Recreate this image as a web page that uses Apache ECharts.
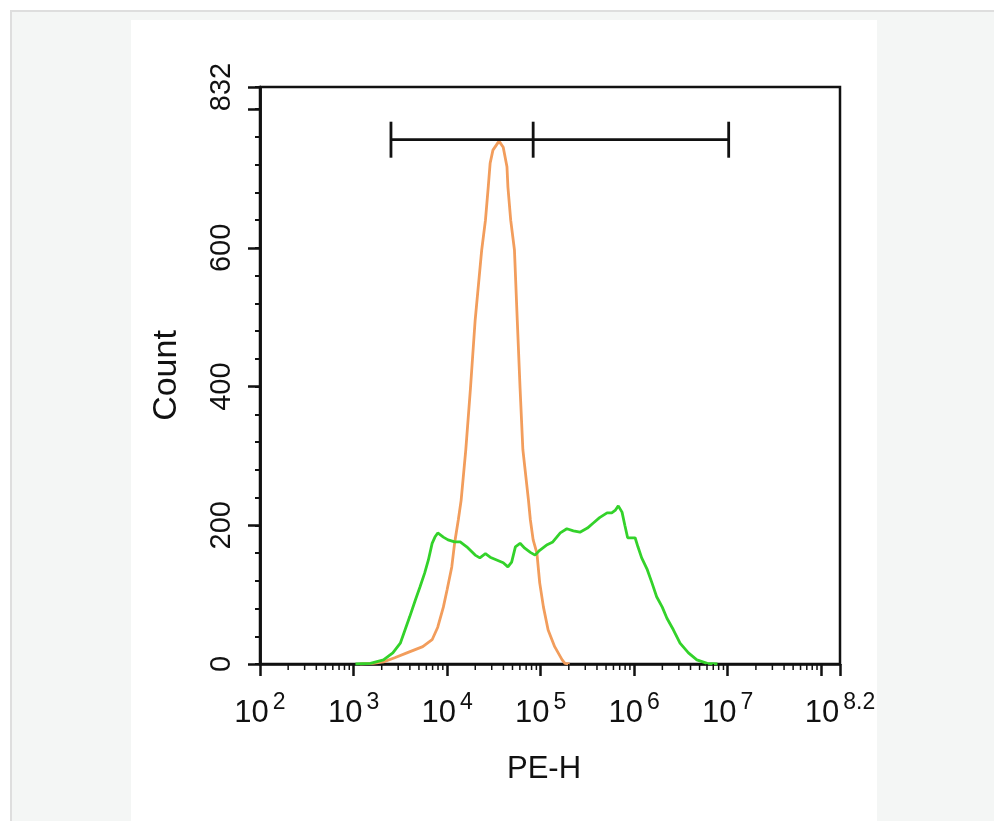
<!DOCTYPE html>
<html>
<head>
<meta charset="utf-8">
<script src="https://cdn.jsdelivr.net/npm/echarts@6/dist/echarts.min.js"></script>
<style>
  html, body { margin:0; padding:0; background:#ffffff; width:994px; height:821px; overflow:hidden; }
  #bg { position:absolute; left:10px; top:10px; width:984px; height:811px; background:#f4f6f5; border-left:2px solid #dedede; border-top:2px solid #dedede; box-sizing:border-box; }
  #panel { position:absolute; left:131px; top:20px; width:746px; height:801px; background:#ffffff; }
  #chart { position:absolute; left:0; top:0; width:994px; height:821px; }
</style>
</head>
<body>
<div id="bg"></div>
<div id="panel"></div>
<div id="chart"></div>
<script>
// ---- data (x given as log10 of PE-H) ----
const orangeExp   = [3.07,3.21,3.32,3.44,3.57,3.74,3.84,3.90,3.96,4.00,4.05,4.08,4.12,4.15,4.20,4.25,4.30,4.37,4.41,4.44,4.46,4.49,4.555,4.60,4.64,4.65,4.68,4.72,4.75,4.78,4.81,4.87,4.89,4.92,4.96,4.99,5.03,5.08,5.15,5.23,5.26,5.31];
const orangeCount = [0,1,3,9,16,25,35,53,82,107,140,174,208,236,309,398,496,597,640,688,722,741,754,745,717,688,640,597,496,398,309,236,208,179,160,117,82,49,25,6,1,0];

const greenExp   = [3.02,3.18,3.32,3.42,3.50,3.55,3.60,3.66,3.71,3.76,3.80,3.84,3.87,3.90,3.96,4.01,4.08,4.14,4.21,4.30,4.35,4.41,4.46,4.53,4.60,4.65,4.69,4.73,4.78,4.83,4.89,4.94,4.99,5.07,5.13,5.21,5.28,5.35,5.42,5.50,5.56,5.63,5.71,5.76,5.80,5.83,5.87,5.90,5.93,6.01,6.04,6.08,6.14,6.19,6.24,6.30,6.35,6.42,6.49,6.58,6.67,6.78,6.89];
const greenCount = [0,1,6,16,30,49,68,92,111,131,150,174,183,189,183,179,176,176,169,157,153,159,154,150,146,140,147,169,174,167,161,157,164,172,176,189,195,192,190,196,203,211,218,218,222,228,219,200,182,182,169,153,136,117,97,82,66,49,30,16,6,1,0];

// gate markers (log10 PE-H) and height (count)
const gateExp = [3.40, 4.92, 7.01];
const gateCount = 756;

// axis ticks
const xMinExp = 2, xMaxExp = 8.2;
const yMax = 832;
const yLabelValues = [0, 200, 400, 600, 832];
const minorMultipliers = [2,3,4,5,6,7,8,9];
const minorDecades = [2,3,4,5,6,7];

const FONT = 'Liberation Sans, Arial, sans-serif';
const toXY = (ex, cnt) => ex.map((e, i) => [Math.pow(10, e), cnt[i]]);
const minorTicks = [];
minorDecades.forEach(d => minorMultipliers.forEach(m => {
  const v = m * Math.pow(10, d);
  if (v < Math.pow(10, xMaxExp)) minorTicks.push([v, 0]);
}));

const chart = echarts.init(document.getElementById('chart'), null, {renderer: 'canvas'});
chart.setOption({
  backgroundColor: 'transparent',
  animation: false,
  grid: {
    left: 260, right: 154, top: 87, bottom: 157,
    show: true, borderColor: '#111', borderWidth: 2.5, backgroundColor: 'transparent',
    outerBoundsMode: 'none'
  },
  xAxis: [{
    type: 'log', logBase: 10,
    min: Math.pow(10, xMinExp), max: Math.pow(10, xMaxExp),
    splitNumber: 6,
    name: 'PE-H', nameLocation: 'middle', nameGap: 90,
    nameTextStyle: { fontFamily: FONT, fontSize: 31, color: '#111', padding: [0, 12, 0, 0] },
    axisLine: { show: true, lineStyle: { color: '#111', width: 2.5 } },
    axisTick: { show: true, length: 12, lineStyle: { color: '#111', width: 2.5 } },
    splitLine: { show: false },
    minorTick: { show: false },
    axisLabel: {
      margin: 27,
      fontFamily: FONT, color: '#111',
      formatter: function (value) {
        const r = Math.round(Math.log10(value) * 10) / 10;
        if (Math.abs(r - 8) < 1e-6) return '';
        const s = Math.abs(r - Math.round(r)) < 1e-6 ? String(Math.round(r)) : r.toFixed(1);
        return '{b|10}{e|' + s + '}';
      },
      rich: {
        b: { fontFamily: FONT, fontSize: 31, lineHeight: 38, color: '#111', verticalAlign: 'bottom' },
        e: { fontFamily: FONT, fontSize: 23, lineHeight: 24, color: '#111', verticalAlign: 'top', padding: [0, 0, 0, 4] }
      }
    }
  }],
  yAxis: [{
    type: 'value', min: 0, max: yMax, interval: 40,
    position: 'left',
    axisLine: { show: true, lineStyle: { color: '#111', width: 2.5 } },
    axisTick: { show: true, length: 5, lineStyle: { color: '#111', width: 2 } },
    axisLabel: { show: false },
    splitLine: { show: false }
  }, {
    type: 'value', min: 0, max: yMax, interval: 200,
    position: 'left',
    name: 'Count', nameLocation: 'middle', nameGap: 76, nameRotate: 90,
    nameTextStyle: { fontFamily: FONT, fontSize: 34, color: '#111' },
    axisLine: { show: true, lineStyle: { color: '#111', width: 2.5 } },
    axisTick: { show: true, length: 12, lineStyle: { color: '#111', width: 2.5 } },
    splitLine: { show: false },
    axisLabel: {
      rotate: 90, margin: 24,
      fontFamily: FONT, fontSize: 29, color: '#111',
      formatter: function (v) { return yLabelValues.indexOf(v) >= 0 ? String(v) : ''; }
    }
  }],
  series: [{
    type: 'line', name: 'orange', data: toXY(orangeExp, orangeCount),
    showSymbol: false, smooth: false, clip: true, z: 3,
    lineStyle: { color: '#f29d5c', width: 2.8 }
  }, {
    type: 'line', name: 'green', data: toXY(greenExp, greenCount),
    showSymbol: false, smooth: false, clip: true, z: 4,
    lineStyle: { color: '#33d22a', width: 2.8 }
  }, {
    type: 'custom', name: 'gate', clip: false, silent: true, z: 5,
    data: [[Math.pow(10, gateExp[0]), Math.pow(10, gateExp[1]), Math.pow(10, gateExp[2]), gateCount]],
    encode: { x: [0, 1, 2], y: 3 },
    renderItem: function (params, api) {
      const y = api.value(3);
      const p1 = api.coord([api.value(0), y]);
      const p2 = api.coord([api.value(1), y]);
      const p3 = api.coord([api.value(2), y]);
      const st = { stroke: '#111', lineWidth: 2.8 };
      const h = 18;
      return { type: 'group', children: [
        { type: 'line', shape: { x1: p1[0], y1: p1[1], x2: p3[0], y2: p3[1] }, style: st },
        { type: 'line', shape: { x1: p1[0], y1: p1[1] - h, x2: p1[0], y2: p1[1] + h }, style: st },
        { type: 'line', shape: { x1: p2[0], y1: p2[1] - h, x2: p2[0], y2: p2[1] + h }, style: st },
        { type: 'line', shape: { x1: p3[0], y1: p3[1] - h, x2: p3[0], y2: p3[1] + h }, style: st }
      ]};
    }
  }, {
    type: 'custom', name: 'minorTicks', clip: false, silent: true, z: 5,
    data: minorTicks,
    renderItem: function (params, api) {
      const p = api.coord([api.value(0), 0]);
      return { type: 'line', shape: { x1: p[0], y1: p[1], x2: p[0], y2: p[1] + 6 }, style: { stroke: '#111', lineWidth: 1.5 } };
    }
  }]
});
</script>
</body>
</html>
